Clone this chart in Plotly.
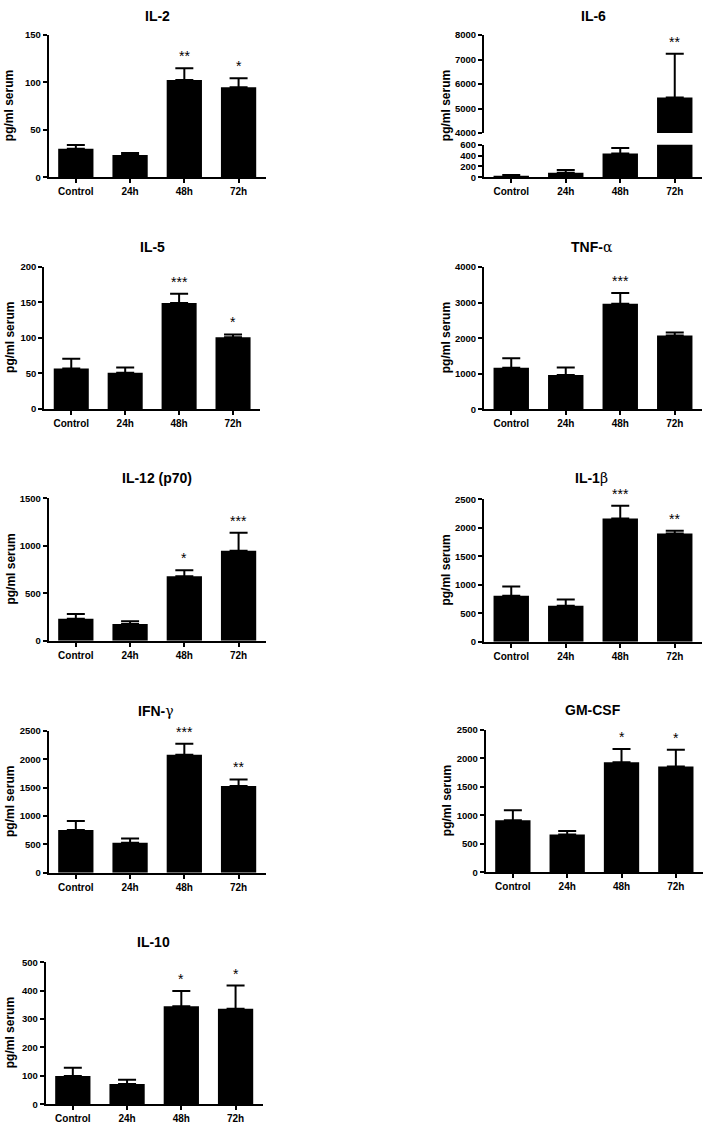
import plotly.graph_objects as go

W, H = 706, 1128
FONT = "Liberation Sans"

categories = ["Control", "24h", "48h", "72h"]

il2_mean = [30, 23.5, 102.5, 95]
il2_sem = [4, 2, 12.5, 9.5]
il2_stars = ["", "", "**", "*"]

il6_mean = [24, 85, 436, 5455]
il6_sem = [18, 48, 104, 1777]
il6_stars = ["", "", "", "**"]

il5_mean = [57, 51, 149, 101]
il5_sem = [13.5, 7.5, 13, 3.8]
il5_stars = ["", "", "***", "*"]

tnf_mean = [1170, 965, 2970, 2080]
tnf_sem = [267, 213, 305, 83]
tnf_stars = ["", "", "***", ""]

il12_mean = [233, 177, 679, 950]
il12_sem = [49, 28, 65, 188]
il12_stars = ["", "", "*", "***"]

il1b_mean = [806, 632, 2163, 1902]
il1b_sem = [163, 111, 226, 47]
il1b_stars = ["", "", "***", "**"]

ifng_mean = [757, 530, 2085, 1531]
ifng_sem = [157, 75, 193, 117]
ifng_stars = ["", "", "***", "**"]

gmcsf_mean = [915, 665, 1932, 1858]
gmcsf_sem = [174, 64, 233, 295]
gmcsf_stars = ["", "", "*", "*"]

il10_mean = [99, 71, 345, 336]
il10_sem = [29, 15, 54, 82]
il10_stars = ["", "", "*", "*"]

G = '<span style="font-family:\'DejaVu Serif\';font-weight:normal">%s</span>'

# name, title, mean, sem, stars, box(px x0,x1,ytop,ybot), yrange, dtick, title pos(px), ytitle x(px)
panels = [
    ("IL-2", "IL-2", il2_mean, il2_sem, il2_stars, (48.7, 265.7, 29.3, 173), [0, 150], 50, (157, 10), 9),
    ("IL-5", "IL-5", il5_mean, il5_sem, il5_stars, (44.3, 260, 263.3, 407), [0, 200], 50, (152, 243), 10),
    ("TNF", "TNF-" + G % "α", tnf_mean, tnf_sem, tnf_stars, (484, 702, 263.7, 407.3), [0, 4000], 1000, (592, 243), 446),
    ("IL-12", "IL-12 (p70)", il12_mean, il12_sem, il12_stars, (48.7, 265.7, 497.3, 641), [0, 1500], 500, (157, 477), 11),
    ("IL-1b", "IL-1" + G % "β", il1b_mean, il1b_sem, il1b_stars, (484, 702, 498.3, 642), [0, 2500], 500, (591, 477), 446),
    ("IFN", "IFN-" + G % "γ", ifng_mean, ifng_sem, ifng_stars, (48.7, 265.7, 732.3, 875.3), [0, 2500], 500, (156, 712), 10),
    ("GM", "GM-CSF", gmcsf_mean, gmcsf_sem, gmcsf_stars, (485.7, 703, 731, 875), [0, 2500], 500, (593, 711), 447),
    ("IL-10", "IL-10", il10_mean, il10_sem, il10_stars, (45.7, 262.7, 965.7, 1109), [0, 500], 100, (153, 945), 10),
]

fig = go.Figure()
layout = dict(
    width=W, height=H, margin=dict(l=0, r=0, t=0, b=0),
    paper_bgcolor="white", plot_bgcolor="white", showlegend=False,
    font=dict(family=FONT, color="black"),
)
annotations = []

def xdom(x0, x1):
    return [x0 / W, x1 / W]

def ydom(yt, yb):
    return [1 - yb / H, 1 - yt / H]

def xaxis_def(i, x0, x1):
    return dict(domain=xdom(x0, x1), anchor="y%d" % i, range=[-0.5, 3.5],
                showline=True, linewidth=2, linecolor="black", ticks="outside",
                ticklen=4, tickwidth=2, tickcolor="black", showgrid=False, zeroline=False,
                tickfont=dict(family=FONT, size=10, color="black", weight="bold"),
                fixedrange=True)

def yaxis_def(i, yt, yb, rng, dtick):
    return dict(domain=ydom(yt, yb), anchor="x%d" % i, range=rng, dtick=dtick, tick0=rng[0],
                showline=True, linewidth=2, linecolor="black", ticks="outside",
                ticklen=4, tickwidth=2, tickcolor="black", showgrid=False, zeroline=False,
                tickfont=dict(family=FONT, size=9.5, color="black", weight="bold"),
                fixedrange=True)

def add_bars(xa, ya, mean, sem):
    fig.add_trace(go.Bar(
        x=categories, y=mean, width=0.65, xaxis=xa, yaxis=ya,
        marker=dict(color="black", line=dict(width=0)),
        error_y=dict(type="data", array=sem, arrayminus=[0] * len(sem), symmetric=False,
                     color="black", thickness=2, width=9),
        hoverinfo="skip"))

def add_stars(xref, yref, mean, sem, stars):
    for c, m, s, st in zip(categories, mean, sem, stars):
        if st:
            annotations.append(dict(x=c, y=m + s, xref=xref, yref=yref, text=st,
                                    showarrow=False, yanchor="middle", yshift=12,
                                    font=dict(family=FONT, size=14, color="black")))

def add_titles(title, tpos, ytx, yt, yb):
    annotations.append(dict(x=tpos[0] / W, y=1 - tpos[1] / H, xref="paper", yref="paper",
                            text=title, showarrow=False, xanchor="center", yanchor="middle",
                            font=dict(family=FONT, size=14, color="black", weight="bold")))
    annotations.append(dict(x=ytx / W, y=1 - (yt + yb) / 2 / H, xref="paper", yref="paper",
                            text="pg/ml serum", showarrow=False, textangle=-90,
                            xanchor="center", yanchor="middle",
                            font=dict(family=FONT, size=12, color="black", weight="bold")))

idx = 1
for name, title, mean, sem, stars, box, rng, dtick, tpos, ytx in panels:
    x0, x1, yt, yb = box
    layout["xaxis%d" % idx] = xaxis_def(idx, x0, x1)
    layout["yaxis%d" % idx] = yaxis_def(idx, yt, yb, rng, dtick)
    xa, ya = "x%d" % idx, "y%d" % idx
    add_bars(xa, ya, mean, sem)
    add_stars(xa, ya, mean, sem, stars)
    add_titles(title, tpos, ytx, yt, yb)
    idx += 1

# IL-6 broken axis: lower and upper segments sharing one x axis
lo = idx
layout["xaxis%d" % lo] = xaxis_def(lo, 484, 702)
layout["yaxis%d" % lo] = yaxis_def(lo, 140, 173, [0, 600], 200)
up = idx + 1
layout["yaxis%d" % up] = yaxis_def(up, 29.3, 128.3, [4000, 8000], 1000)
layout["yaxis%d" % up]["anchor"] = "x%d" % lo
add_bars("x%d" % lo, "y%d" % lo, il6_mean, il6_sem)
add_bars("x%d" % lo, "y%d" % up, il6_mean, il6_sem)
add_stars("x%d" % lo, "y%d" % up, il6_mean, il6_sem, il6_stars)
add_titles("IL-6", (593, 10), 446, 29.3, 173)

layout["annotations"] = annotations
fig.update_layout(**layout)
fig.write_html(
    "out.html",
    config={"displayModeBar": False},
    post_script="document.body.style.margin='0';document.body.style.overflow='hidden';",
)
